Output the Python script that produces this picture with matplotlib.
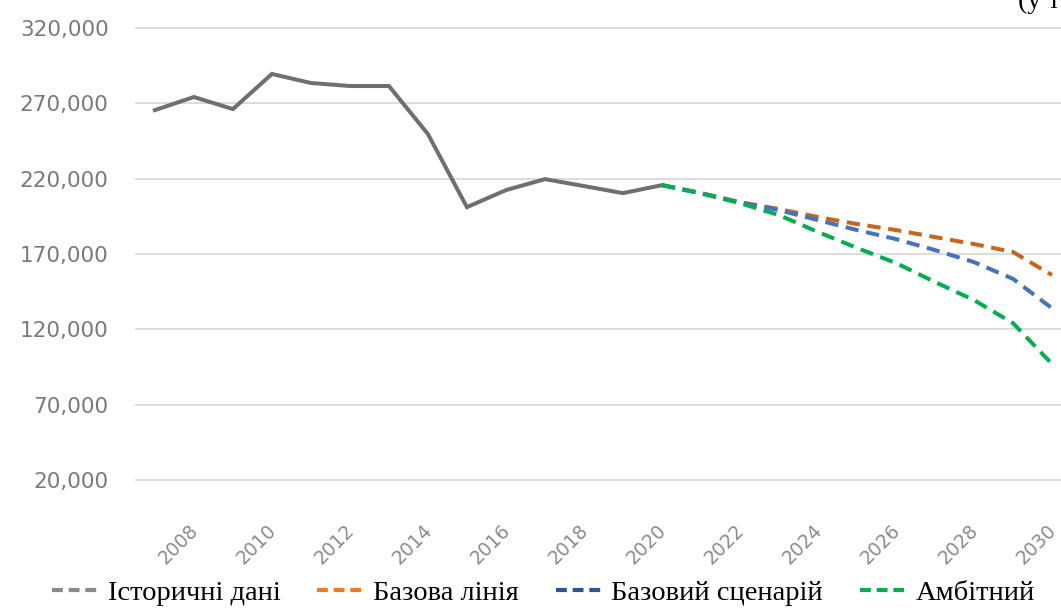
import matplotlib.pyplot as plt
import matplotlib.transforms as mtransforms
from matplotlib.lines import Line2D
from matplotlib.ticker import FuncFormatter

# historical data 2007-2020
hist_years = list(range(2007, 2021))
hist_values = [265500, 274200, 266200, 289500, 283500, 281500, 281500,
               249600, 201100, 212400, 219700, 215100, 210400, 215700]

# scenarios 2020-2030
fc_years = list(range(2020, 2031))
baseline = [215700, 210400, 204400, 199800, 194500, 189900, 185900, 181200, 176600, 171300, 156000]
basic = [215700, 210400, 204200, 199100, 192500, 185900, 179900, 172600, 164600, 153500, 134000]
ambitious = [215700, 210200, 203800, 195800, 184600, 174000, 164000, 151400, 139400, 124100, 97000]

labels = ["Історичні дані", "Базова лінія", "Базовий сценарій", "Амбітний"]
line_colors = ["#6f6f6f", "#c8651b", "#4472c4", "#00b050"]
legend_colors = ["#8a8a8a", "#f07a1e", "#2f5496", "#00b050"]

fig = plt.figure(figsize=(10.61, 6.13), dpi=100)
ax = fig.add_axes([135 / 1061, 130 / 613, 926 / 1061, 458 / 613])

ax.plot(hist_years, hist_values, color=line_colors[0], lw=2.9, solid_joinstyle="miter")
for vals, c in zip([baseline, basic, ambitious], line_colors[1:]):
    ax.plot(fc_years, vals, color=c, lw=2.9, dashes=(3.3, 1.9))

ax.set_xlim(2006.49, 2030.23)
ax.set_ylim(18000, 322000)
ax.set_yticks(range(20000, 320001, 50000))
ax.yaxis.set_major_formatter(FuncFormatter(lambda v, p: f"{int(v):,}"))
ax.set_xticks(range(2008, 2031, 2))
ax.grid(axis="y", color="#dcdcdc", lw=1.4)
ax.set_axisbelow(True)
for s in ax.spines.values():
    s.set_visible(False)
ax.tick_params(axis="y", length=0, pad=19, labelsize=15.5, labelcolor="#7a7a7a")
ax.tick_params(axis="x", length=0, pad=27, labelsize=13.5, labelcolor="#8c8c8c")
offset = mtransforms.ScaledTranslation(8 / 100, 0, fig.dpi_scale_trans)
for lab in ax.get_xticklabels():
    lab.set_rotation(45)
    lab.set_ha("right")
    lab.set_va("top")
    lab.set_transform(lab.get_transform() + offset)

handles = [Line2D([0], [0], color=c, lw=3, dashes=(2.6, 1.4)) for c in legend_colors]
fig.legend(handles, labels, loc="lower center", bbox_to_anchor=(0.512, -0.03), ncol=4,
           frameon=False, prop={"family": "Liberation Serif", "size": 20.5},
           handlelength=1.6, handletextpad=0.35, columnspacing=1.3)

fig.text(1018 / 1061, 1 - 8 / 613, "(у т", family="Liberation Serif", fontsize=20,
         ha="left", va="baseline", color="black")

fig.savefig("out.png", dpi=100)
